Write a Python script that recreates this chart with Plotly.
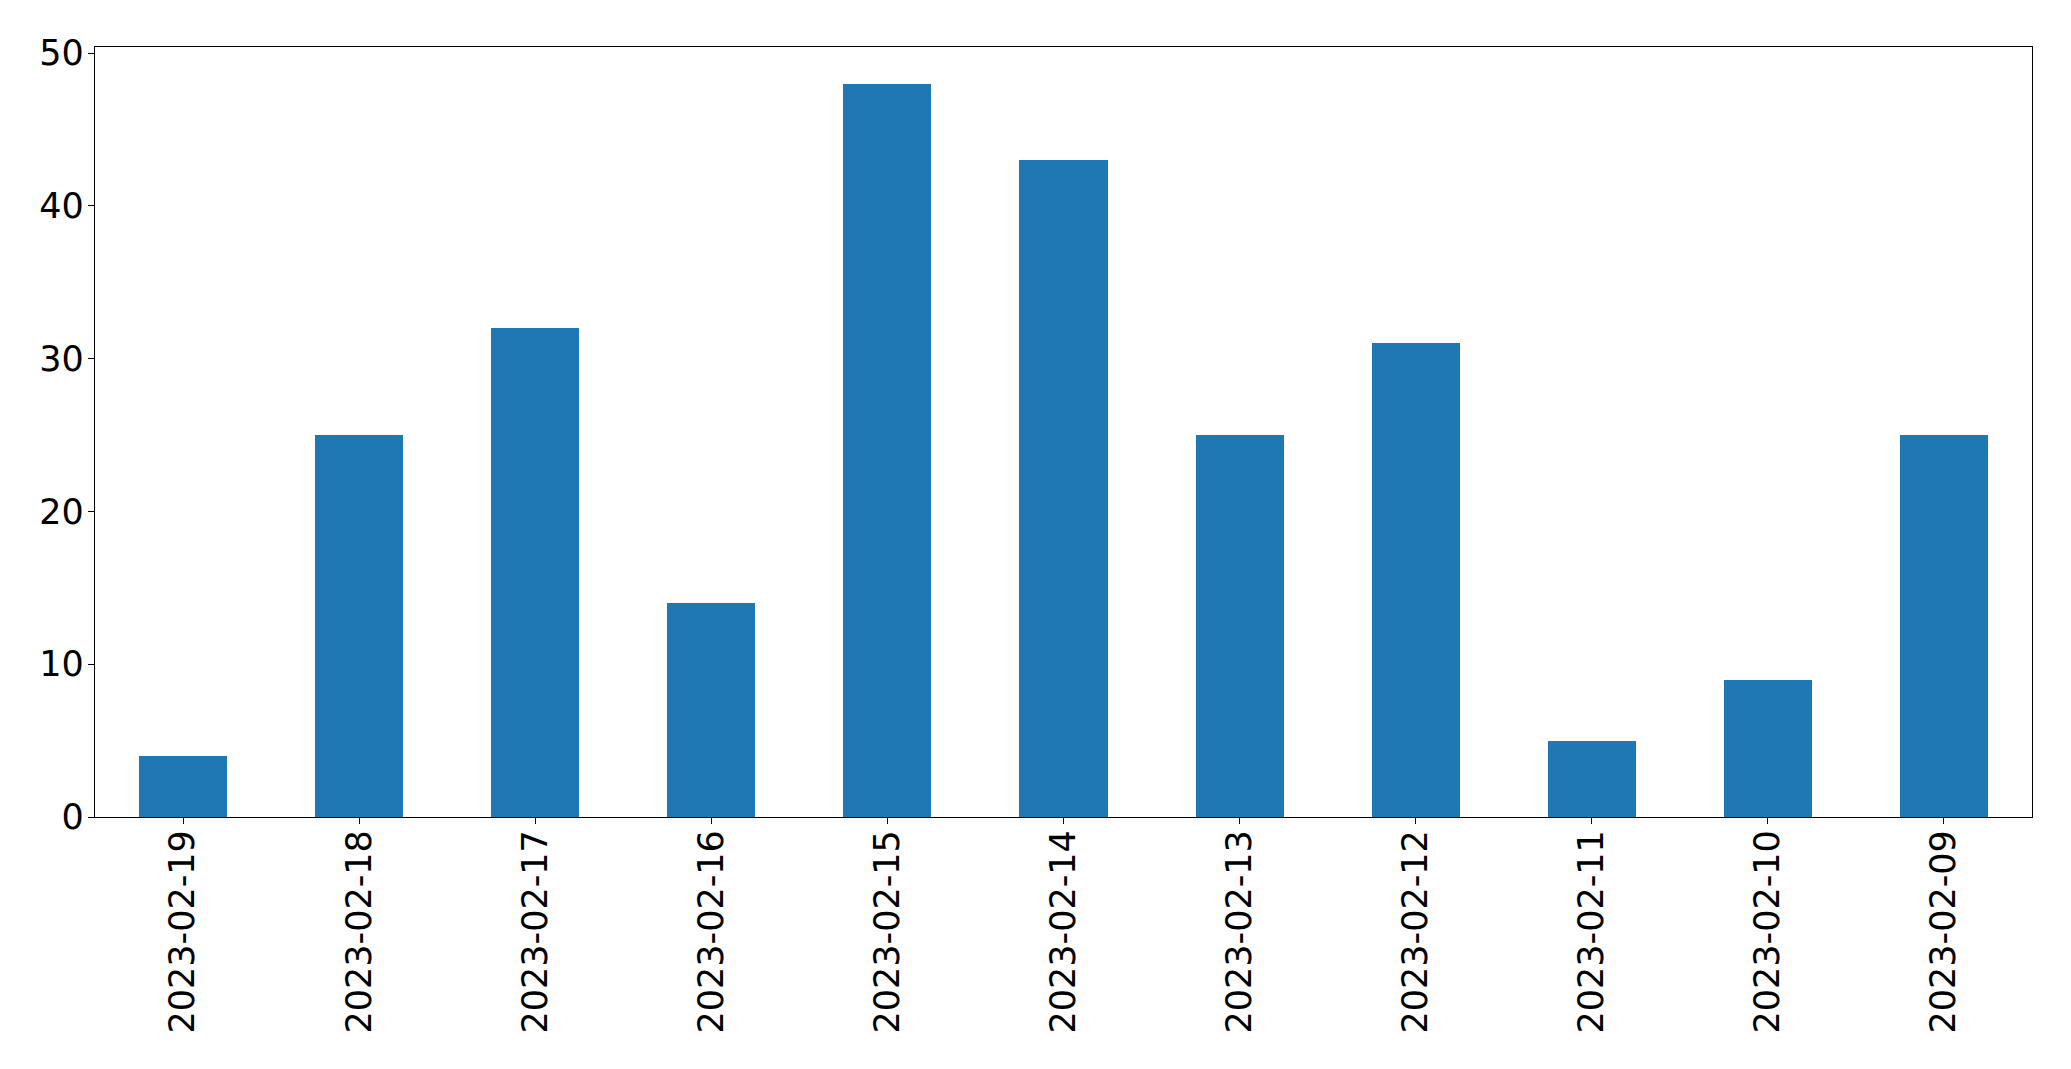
import plotly.graph_objects as go

dates = ["2023-02-19", "2023-02-18", "2023-02-17", "2023-02-16", "2023-02-15",
         "2023-02-14", "2023-02-13", "2023-02-12", "2023-02-11", "2023-02-10", "2023-02-09"]
counts = [4, 25, 32, 14, 48, 43, 25, 31, 5, 9, 25]
y_ticks = [0, 10, 20, 30, 40, 50]

fig = go.Figure(go.Bar(x=dates, y=counts, width=0.5, marker=dict(color="#1f77b4", line=dict(width=0))))

fig.update_layout(
    width=2071, height=1069,
    margin=dict(l=87, r=47, t=39, b=260, autoexpand=False),
    paper_bgcolor="white", plot_bgcolor="white",
    font=dict(family="DejaVu Sans", size=35, color="black"),
    showlegend=False,
    bargap=0,
)
fig.update_xaxes(
    type="category", range=[-0.5, 10.5], tickangle=-90,
    showline=True, linecolor="black", linewidth=1.3, mirror=True,
    ticks="outside", ticklen=6, tickwidth=1.3, tickcolor="black",
    showgrid=False, zeroline=False, ticklabelstandoff=-8,
)
fig.update_yaxes(
    range=[0, 50.4], tickvals=y_ticks,
    showline=True, linecolor="black", linewidth=1.3, mirror=True,
    ticks="outside", ticklen=6, tickwidth=1.3, tickcolor="black",
    showgrid=False, zeroline=False, ticklabelstandoff=-3,
)

fig.write_html("out.html")
